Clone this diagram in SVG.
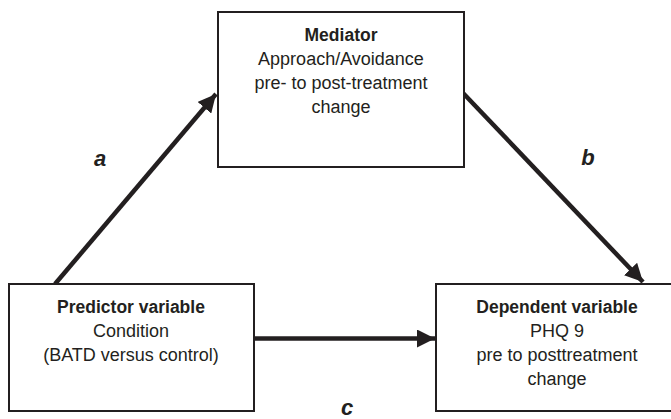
<svg xmlns="http://www.w3.org/2000/svg" width="671" height="419" viewBox="0 0 671 419">
<style>
.box{fill:#fff;stroke:#231f20;stroke-width:2}
.t{font-family:"Liberation Sans",Arial,sans-serif;font-size:18px;fill:#231f20;text-anchor:middle}
.b{font-weight:bold;font-size:17.5px}
.lab{font-family:"Liberation Sans",Arial,sans-serif;font-size:22px;font-weight:bold;font-style:italic;fill:#231f20;text-anchor:middle}
.conn{stroke:#231f20;stroke-width:4.5;fill:none}
</style>
<defs>
<marker id="ah" markerUnits="userSpaceOnUse" markerWidth="18" markerHeight="18" viewBox="0 0 16 16" refX="16" refY="8" orient="auto">
<path d="M0,0 L16,8 L0,16 Z" fill="#231f20"/>
</marker>
</defs>
<rect width="671" height="419" fill="#fff"/>
<g id="connectors">
<line class="conn" x1="55" y1="284" x2="216" y2="94" marker-end="url(#ah)"/>
<line class="conn" x1="463" y1="93" x2="643" y2="282" marker-end="url(#ah)"/>
<line class="conn" x1="254" y1="338.5" x2="435" y2="338.5" marker-end="url(#ah)"/>
</g>
<g id="mediator">
<rect class="box" x="218" y="12" width="246" height="155"/>
<text class="t b" x="341" y="41">Mediator</text>
<text class="t" x="341" y="65">Approach/Avoidance</text>
<text class="t" x="341" y="89">pre- to post-treatment</text>
<text class="t" x="341" y="113">change</text>
</g>
<g id="predictor">
<rect class="box" x="9" y="284" width="245" height="127"/>
<text class="t b" x="131" y="313">Predictor variable</text>
<text class="t" x="131" y="337">Condition</text>
<text class="t" x="131" y="361">(BATD versus control)</text>
</g>
<g id="dependent">
<rect class="box" x="436" y="284" width="243" height="127"/>
<text class="t b" x="557" y="313">Dependent variable</text>
<text class="t" x="557" y="337">PHQ 9</text>
<text class="t" x="557" y="361">pre to posttreatment</text>
<text class="t" x="557" y="385">change</text>
</g>
<g id="labels">
<text class="lab" x="100" y="166">a</text>
<text class="lab" x="588" y="165">b</text>
<text class="lab" x="347" y="415">c</text>
</g>
</svg>
